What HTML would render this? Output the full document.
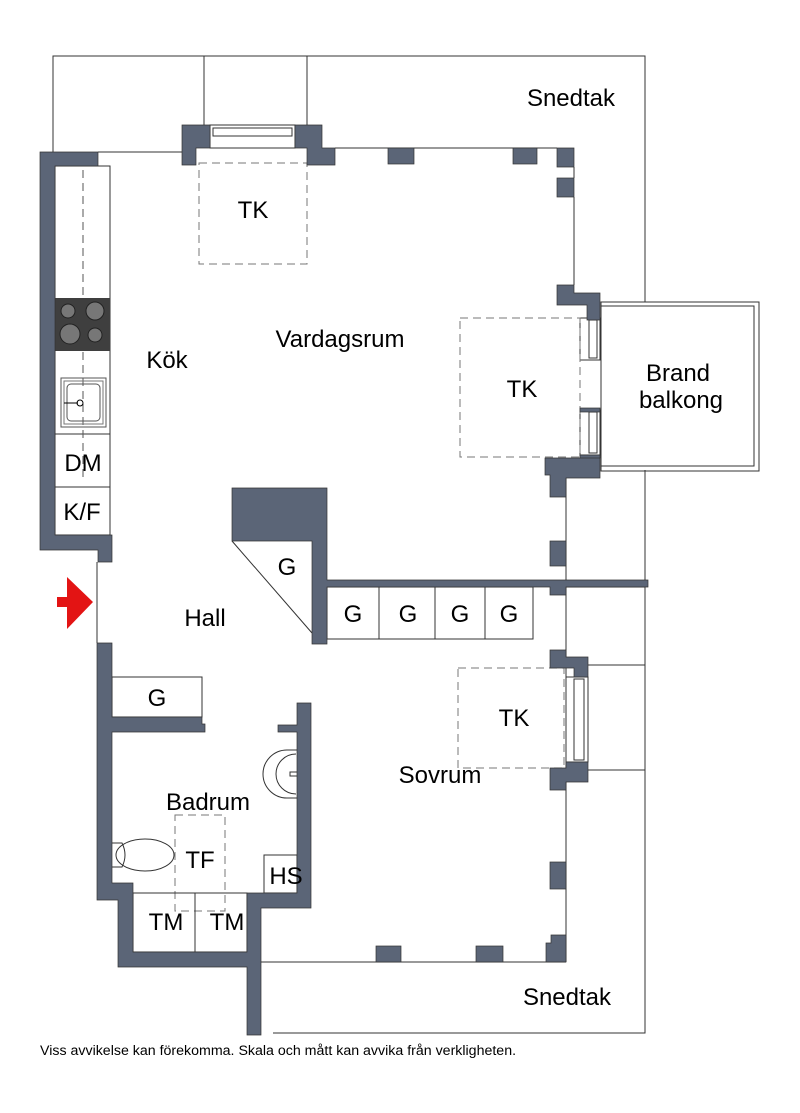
<!DOCTYPE html>
<html><head><meta charset="utf-8"><style>
body{margin:0;background:#fff}
svg{display:block}
text{font-family:"Liberation Sans",sans-serif;fill:#000}
</style></head><body>
<svg width="800" height="1113" viewBox="0 0 800 1113" xmlns="http://www.w3.org/2000/svg">
<g fill="none" stroke="#333" stroke-width="1">
<polyline points="53,152 53,56 645,56 645,302"/>
<polyline points="645,470 645,1033 273,1033"/>
<line x1="204" y1="56" x2="204" y2="128"/>
<line x1="307" y1="56" x2="307" y2="128"/>
<line x1="98" y1="152" x2="182" y2="152"/>
<line x1="335" y1="148" x2="557" y2="148"/>
<line x1="574" y1="197" x2="574" y2="285"/>
<line x1="574" y1="167" x2="574" y2="178"/>
<line x1="566" y1="475" x2="566" y2="962"/>
<line x1="261" y1="962" x2="566" y2="962"/>
<line x1="566" y1="587" x2="645" y2="587"/>
<line x1="588" y1="665" x2="645" y2="665"/>
<line x1="588" y1="770" x2="645" y2="770"/>
<line x1="97" y1="562" x2="97" y2="643"/>
<rect x="601" y="302" width="158" height="169"/>
<rect x="601" y="306" width="153" height="160"/>
<rect x="55" y="166" width="55" height="369"/>
<line x1="55" y1="434" x2="110" y2="434"/>
<line x1="55" y1="487" x2="110" y2="487"/>
<line x1="83" y1="170" x2="83" y2="300" stroke-dasharray="8,5" stroke="#555"/>
<line x1="83" y1="352" x2="83" y2="480" stroke-dasharray="8,5" stroke="#555"/>
<rect x="61" y="378" width="45" height="49" stroke="#555"/>
<rect x="64" y="381" width="39" height="43" stroke="#777"/>
<rect x="67" y="384" width="33" height="37" rx="4" stroke="#555"/>
<circle cx="80" cy="403" r="3" stroke="#000"/>
<line x1="64" y1="403" x2="78" y2="403" stroke="#000"/>
<rect x="210" y="125" width="85" height="23"/>
<rect x="213" y="128" width="79" height="8"/>
<rect x="580" y="318" width="20" height="42"/>
<rect x="580" y="410" width="20" height="45"/>
<rect x="589" y="320" width="8" height="38"/>
<rect x="589" y="412" width="8" height="41"/>
<rect x="566" y="677" width="22" height="85"/>
<rect x="574" y="679" width="10" height="81"/>
<g stroke="#777" stroke-dasharray="8,5">
<rect x="199" y="163" width="108" height="101"/>
<rect x="460" y="318" width="120" height="139"/>
<rect x="458" y="668" width="106" height="100"/>
<rect x="175" y="815" width="50" height="96"/>
</g>
<line x1="232" y1="541" x2="312" y2="633"/>
<rect x="327" y="587" width="206" height="52"/>
<line x1="379" y1="587" x2="379" y2="639"/>
<line x1="435" y1="587" x2="435" y2="639"/>
<line x1="485" y1="587" x2="485" y2="639"/>
<rect x="112" y="677" width="90" height="40"/>
<rect x="264" y="855" width="33" height="38"/>
<rect x="133" y="893" width="114" height="59"/>
<line x1="195" y1="893" x2="195" y2="952"/>
<path d="M297,750 L287,750 A24,24 0 0 0 287,798 L297,798"/>
<path d="M296,754 A20,20 0 1 0 296,794"/>
<rect x="290" y="772" width="8" height="4"/>
<ellipse cx="145" cy="855" rx="29" ry="16"/>
<path d="M112,843 L122,843 Q128,855 122,867 L112,867"/>
</g>
<rect x="55" y="298" width="55" height="53" fill="#3f3f3f"/>
<g stroke="#222" fill="#777">
<circle cx="68" cy="311" r="7"/><circle cx="95" cy="311" r="9"/>
<circle cx="70" cy="334" r="10"/><circle cx="95" cy="335" r="7"/>
</g>
<g fill="#5b6577" stroke="#333" stroke-width="0.7">
<path d="M40,152 H98 V166 H55 V535 H112 V562 H98 V550 H40 Z"/>
<path d="M182,125 H210 V148 H196 V165 H182 Z"/>
<path d="M295,125 H322 V148 H335 V165 H307 V148 H295 Z"/>
<rect x="388" y="148" width="26" height="16"/>
<rect x="513" y="148" width="24" height="16"/>
<path d="M557,148 H574 V167 H557 V160 Z"/>
<rect x="557" y="178" width="17" height="19"/>
<path d="M557,285 H574 V293 H600 V320 H587 V305 H557 Z"/>
<path d="M580,455 H600 V478 H566 V497 H550 V475 H545 V458 H580 Z"/>
<rect x="580" y="408" width="20" height="4"/>
<rect x="580" y="455" width="20" height="3"/>
<rect x="550" y="541" width="16" height="25"/>
<path d="M232,488 H327 V580 H648 V587 H566 V595 H550 V587 H327 V644 H312 V541 H232 Z"/>
<path d="M550,650 H566 V657 H588 V677 H574 V668 H550 Z"/>
<path d="M566,762 H588 V782 H566 V790 H550 V768 H566 Z"/>
<rect x="550" y="862" width="16" height="27"/>
<path d="M551,935 H566 V962 H546 V943 H551 Z"/>
<rect x="376" y="946" width="25" height="16"/>
<rect x="476" y="946" width="27" height="16"/>
<path d="M97,643 H112 V717 H202 V724 H205 V732 H112 V883 H133 V952 H247 V893 H297 V732 H278 V725 H297 V703 H311 V908 H261 V1035 H247 V967 H118 V900 H97 Z"/>
</g>
<polygon points="57,597 67,597 67,577 93,602 67,629 67,607 57,607" fill="#e31414"/>
<g font-size="24" text-anchor="middle">
<text x="571" y="106">Snedtak</text>
<text x="253" y="218">TK</text>
<text x="340" y="347">Vardagsrum</text>
<text x="167" y="368">Kök</text>
<text x="522" y="397">TK</text>
<text x="678" y="381">Brand</text>
<text x="681" y="408">balkong</text>
<text x="83" y="471">DM</text>
<text x="82" y="520">K/F</text>
<text x="287" y="575">G</text>
<text x="205" y="626">Hall</text>
<text x="353" y="622">G</text>
<text x="408" y="622">G</text>
<text x="460" y="622">G</text>
<text x="509" y="622">G</text>
<text x="157" y="706">G</text>
<text x="514" y="726">TK</text>
<text x="440" y="783">Sovrum</text>
<text x="208" y="810">Badrum</text>
<text x="200" y="868">TF</text>
<text x="286" y="884">HS</text>
<text x="166" y="930">TM</text>
<text x="227" y="930">TM</text>
<text x="567" y="1005">Snedtak</text>
</g>
<text x="40" y="1055" font-size="14.2">Viss avvikelse kan förekomma. Skala och mått kan avvika från verkligheten.</text>
</svg>
</body></html>
